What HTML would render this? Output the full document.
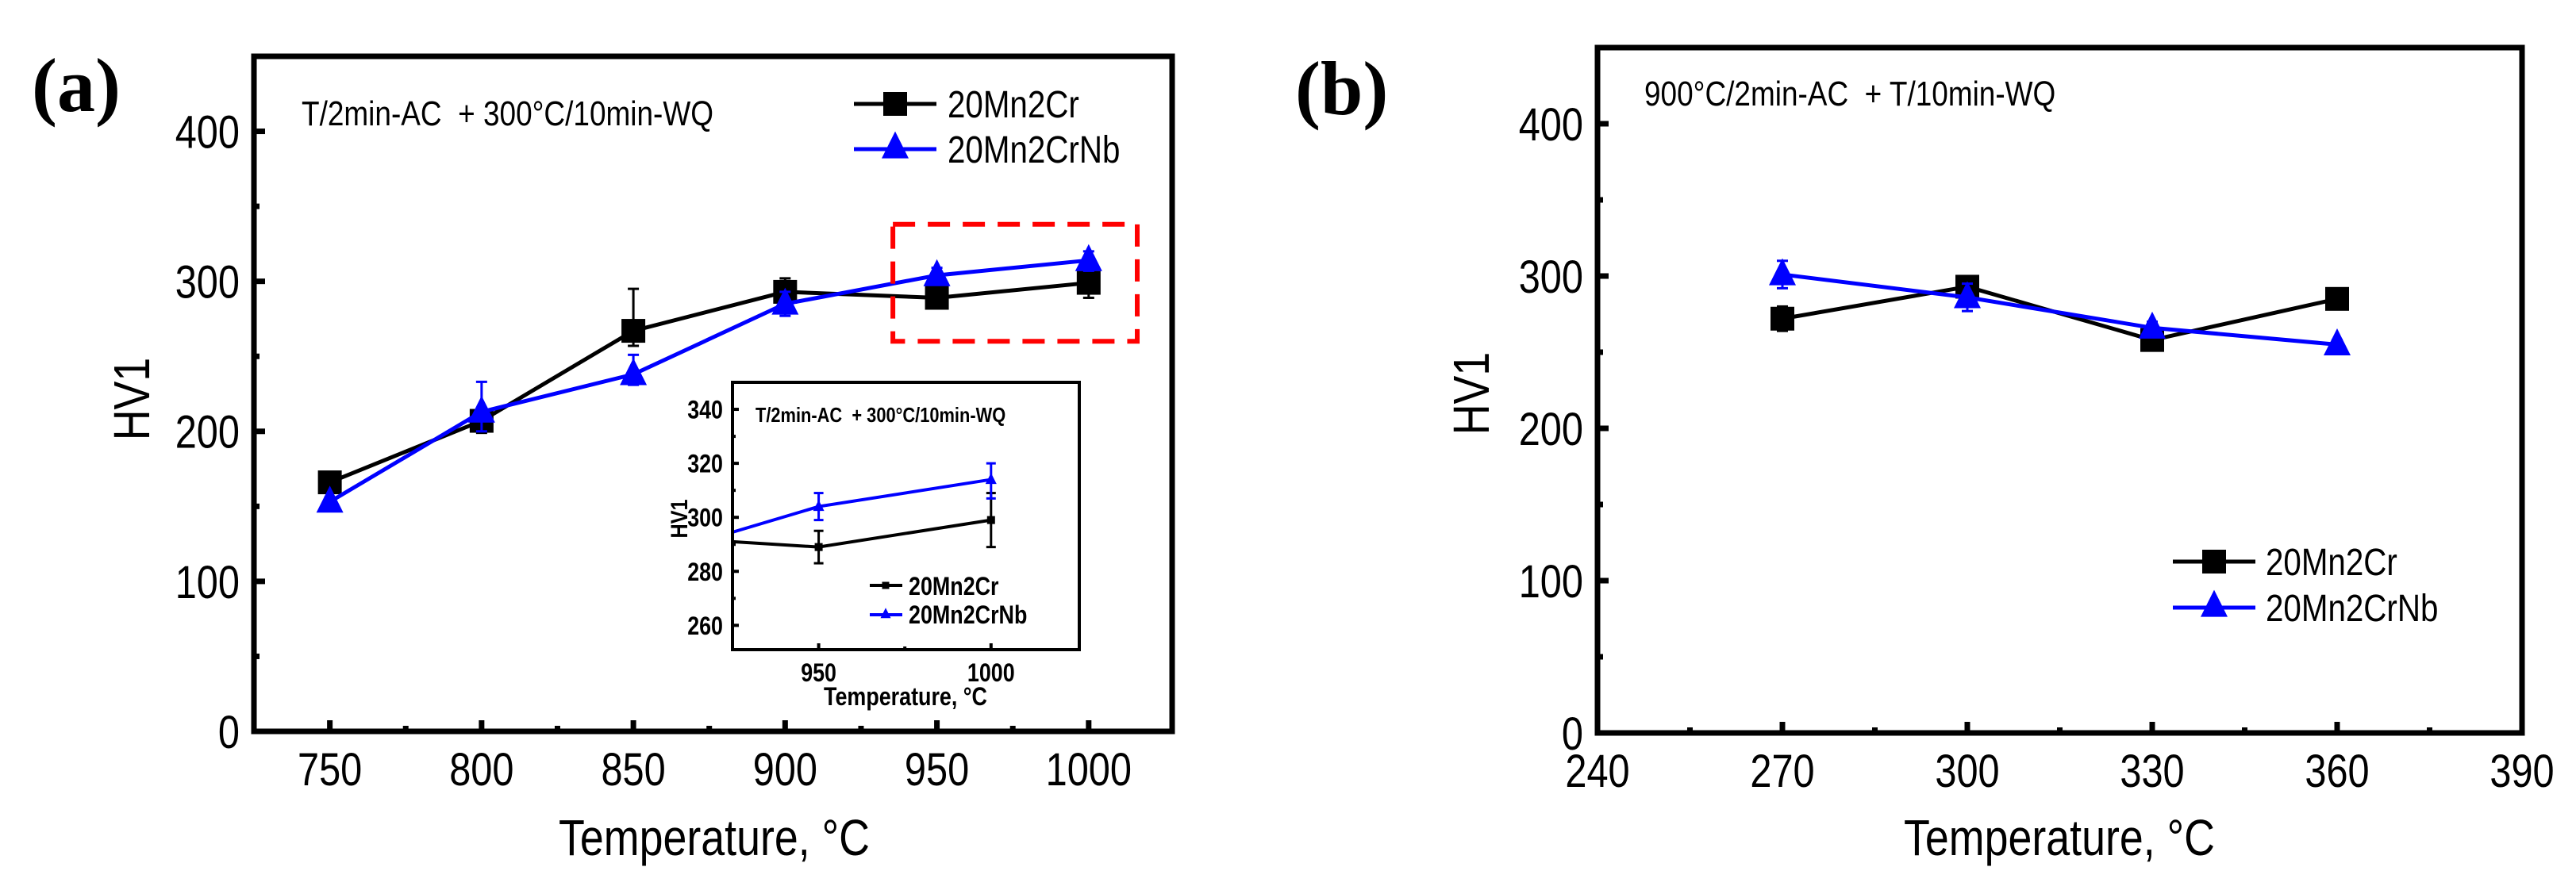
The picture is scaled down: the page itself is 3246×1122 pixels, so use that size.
<!DOCTYPE html>
<html><head><meta charset="utf-8"><style>
html,body{margin:0;padding:0;background:#fff;}
svg{display:block;}
text{font-family:"Liberation Sans",sans-serif;white-space:pre;}
text.serif{font-family:"Liberation Serif",serif;}
</style></head><body>
<svg id="fig" width="3246" height="1122" viewBox="0 0 3246 1122" xmlns="http://www.w3.org/2000/svg"></svg>
<script>
// Panel (a) data
const aTemps = [750, 800, 850, 900, 950, 1000];
const aCr = [166, 207, 267, 293, 289, 299];
const aCrErrHi = [3, 8, 28, 9, 4, 8];
const aCrErrLo = [3, 8, 10, 9, 4, 10];
const aNb = [153, 213, 238, 285, 304, 314];
const aNbErrHi = [3, 20, 13, 8, 5, 6];
const aNbErrLo = [3, 13, 7, 8, 5, 7];
const aXTicks = [750, 800, 850, 900, 950, 1000];
const aYTicks = [0, 100, 200, 300, 400];
// Inset data
const inYTicks = [260, 280, 300, 320, 340];
const inXTicks = [950, 1000];
// Panel (b) data
const bTemps = [270, 300, 330, 360];
const bCr = [272, 293, 258, 285];
const bCrErr = [8, 7, 4, 5];
const bNb = [301, 286, 266, 255];
const bNbErr = [9, 9, 4, 3];
const bXTicks = [240, 270, 300, 330, 360, 390];
const bYTicks = [0, 100, 200, 300, 400];

const svg = document.getElementById('fig');
const NS = 'http://www.w3.org/2000/svg';
function mk(tag, attrs, parent) {
  const e = document.createElementNS(NS, tag);
  for (const k in attrs) e.setAttribute(k, attrs[k]);
  (parent || svg).appendChild(e);
  return e;
}
function txt(s, attrs, parent) { const t = mk('text', attrs, parent); t.textContent = s; return t; }

function axis(L, R, T, B, x0, x1, y0, y1) {
  return { sx: v => L + (v - x0) / (x1 - x0) * (R - L), sy: v => B - (v - y0) / (y1 - y0) * (B - T), L, R, T, B };
}

function square(g, x, y, s, c) { return mk('rect', { x: x - s / 2, y: y - s / 2, width: s, height: s, fill: c }, g); }
function tri(g, x, y, s, c) { return mk('polygon', { points: `${x},${y - s * 0.6} ${x - s / 2},${y + s * 0.4} ${x + s / 2},${y + s * 0.4}`, fill: c }, g); }

function series(g, ax, xs, ys, hi, lo, color, marker, ms, lw, cap, name) {
  const sg = mk('g', {}, g);
  
  
  const pts = xs.map((x, i) => ax.sx(x) + ',' + ax.sy(ys[i])).join(' ');
  const line = mk('polyline', { points: pts, fill: 'none', stroke: color, 'stroke-width': lw }, sg);
  
  
  xs.forEach((x, i) => {
    const px = ax.sx(x);
    const yh = ax.sy(ys[i] + hi[i]), yl = ax.sy(ys[i] - lo[i]);
    const eb = mk('g', {}, sg);
    
    
    mk('line', { x1: px, x2: px, y1: yh, y2: yl, stroke: color, 'stroke-width': 3 }, eb);
    mk('line', { x1: px - cap, x2: px + cap, y1: yh, y2: yh, stroke: color, 'stroke-width': 3 }, eb);
    mk('line', { x1: px - cap, x2: px + cap, y1: yl, y2: yl, stroke: color, 'stroke-width': 3 }, eb);
    const m = marker === 'sq' ? square(sg, px, ax.sy(ys[i]), ms, color) : tri(sg, px, ax.sy(ys[i]), ms, color);
    
    
  });
}

function frame(g, ax, xticks, yticks, xminor, yminor, lw, tl, fs, bold, xlabOff, ylabOff) {
  const fw = bold ? 'bold' : 'normal';
  xticks.forEach(v => {
    const x = ax.sx(v);
    mk('line', { x1: x, x2: x, y1: ax.B, y2: ax.B - tl, stroke: '#000', 'stroke-width': lw }, g);
    const t = txt(String(v), { x: x, y: ax.B + xlabOff, 'font-size': fs, 'font-weight': fw, 'text-anchor': 'middle' }, g);
    
    
  });
  xminor.forEach(v => { const x = ax.sx(v); mk('line', { x1: x, x2: x, y1: ax.B, y2: ax.B - tl / 2, stroke: '#000', 'stroke-width': lw }, g); });
  yticks.forEach(v => {
    const y = ax.sy(v);
    mk('line', { x1: ax.L, x2: ax.L + tl, y1: y, y2: y, stroke: '#000', 'stroke-width': lw }, g);
    const t = txt(String(v), { x: ax.L - ylabOff, y: y + fs * 0.36, 'font-size': fs, 'font-weight': fw, 'text-anchor': 'end' }, g);
    
    
  });
  yminor.forEach(v => { const y = ax.sy(v); mk('line', { x1: ax.L, x2: ax.L + tl / 2, y1: y, y2: y, stroke: '#000', 'stroke-width': lw }, g); });
  mk('rect', { x: ax.L, y: ax.T, width: ax.R - ax.L, height: ax.B - ax.T, fill: 'none', stroke: '#000', 'stroke-width': lw }, g);
}

// ---------- Panel (a) ----------
const ga = mk('g', {});


const A = axis(320, 1477, 71, 922, 725, 1027.5, 0, 450);
const la = txt('(a)', { x: 40, y: 140, 'font-size': 96, 'font-weight': 'bold', class: 'serif' }, ga);
 
series(ga, A, aTemps, aCr, aCrErrHi, aCrErrLo, '#000', 'sq', 30, 5, 7, 'series-20mn2cr');
series(ga, A, aTemps, aNb, aNbErrHi, aNbErrLo, '#0000ff', 'tri', 34, 5, 7, 'series-20mn2crnb');
frame(ga, A, aXTicks, aYTicks, [775, 825, 875, 925, 975], [50, 150, 250, 350], 7, 14, 58, false, 68, 18);
const rb = mk('rect', { x: A.sx(935.5), y: A.sy(338), width: A.sx(1016) - A.sx(935.5), height: A.sy(260) - A.sy(338), fill: 'none', stroke: '#ff0000', 'stroke-width': 6, 'stroke-dasharray': '28,16' }, ga);
 
let t;
t = txt('T/2min-AC  + 300°C/10min-WQ', { x: 380, y: 158, 'font-size': 44 }, ga);
 
t = txt('HV1', { x: 0, y: 0, 'font-size': 64, 'text-anchor': 'middle', transform: 'translate(188,503) rotate(-90)' }, ga);
 
t = txt('Temperature, °C', { x: 900, y: 1078, 'font-size': 64, 'text-anchor': 'middle' }, ga);
 
const lga = mk('g', {}, ga);
 
mk('line', { x1: 1076, x2: 1180, y1: 131, y2: 131, stroke: '#000', 'stroke-width': 5 }, lga);
square(lga, 1128, 131, 30, '#000');
t = txt('20Mn2Cr', { x: 1194, y: 148, 'font-size': 48 }, lga);
 
mk('line', { x1: 1076, x2: 1180, y1: 188, y2: 188, stroke: '#0000ff', 'stroke-width': 5 }, lga);
tri(lga, 1128, 186, 34, '#0000ff');
t = txt('20Mn2CrNb', { x: 1194, y: 205, 'font-size': 48 }, lga);
 

// ---------- Inset ----------
const gi = mk('g', {}, ga);
 
const I = axis(923, 1360, 482, 819, 925, 1025.6, 251, 350);
mk('rect', { x: 923, y: 482, width: 437, height: 337, fill: '#fff' }, gi);
const defs = mk('defs', {}, gi);
const cp = mk('clipPath', { id: 'inclip' }, defs);
mk('rect', { x: 923, y: 482, width: 437, height: 337 }, cp);
const gic = mk('g', { 'clip-path': 'url(#inclip)' }, gi);
series(gic, I, aTemps, aCr, [3, 8, 28, 9, 6, 10], [3, 8, 10, 9, 6, 10], '#000', 'sq', 10, 4, 6, 'inset-series-20mn2cr');
series(gic, I, aTemps, aNb, [3, 20, 13, 8, 5, 6], [3, 13, 7, 8, 5, 7], '#0000ff', 'tri', 14, 4, 6, 'inset-series-20mn2crnb');
frame(gi, I, inXTicks, inYTicks, [975], [270, 290, 310, 330], 4, 8, 32, true, 40, 12);
t = txt('T/2min-AC  + 300°C/10min-WQ', { x: 952, y: 532, 'font-size': 26, 'font-weight': 'bold' }, gi);
 
t = txt('HV1', { x: 0, y: 0, 'font-size': 30, 'font-weight': 'bold', 'text-anchor': 'middle', transform: 'translate(866,654) rotate(-90)' }, gi);
 
t = txt('Temperature, °C', { x: 1141, y: 889, 'font-size': 32, 'font-weight': 'bold', 'text-anchor': 'middle' }, gi);
 
mk('line', { x1: 1096, x2: 1137, y1: 738, y2: 738, stroke: '#000', 'stroke-width': 4 }, gi);
square(gi, 1116, 738, 9, '#000');
t = txt('20Mn2Cr', { x: 1145, y: 750, 'font-size': 32, 'font-weight': 'bold' }, gi);
 
mk('line', { x1: 1096, x2: 1137, y1: 775, y2: 775, stroke: '#0000ff', 'stroke-width': 4 }, gi);
tri(gi, 1116, 774, 13, '#0000ff');
t = txt('20Mn2CrNb', { x: 1145, y: 786, 'font-size': 32, 'font-weight': 'bold' }, gi);
 

// ---------- Panel (b) ----------
const gb = mk('g', {});


const Bx = axis(2013, 3178, 60, 924, 240, 390, 0, 450);
t = txt('(b)', { x: 1632, y: 144, 'font-size': 96, 'font-weight': 'bold', class: 'serif' }, gb);
 
series(gb, Bx, bTemps, bCr, bCrErr, bCrErr, '#000', 'sq', 30, 5, 7, 'series-20mn2cr');
series(gb, Bx, bTemps, bNb, bNbErr, bNbErr, '#0000ff', 'tri', 34, 5, 7, 'series-20mn2crnb');
frame(gb, Bx, bXTicks, bYTicks, [255, 285, 315, 345, 375], [50, 150, 250, 350], 7, 14, 58, false, 68, 18);
t = txt('900°C/2min-AC  + T/10min-WQ', { x: 2072, y: 133, 'font-size': 44 }, gb);
 
t = txt('HV1', { x: 0, y: 0, 'font-size': 64, 'text-anchor': 'middle', transform: 'translate(1876,496) rotate(-90)' }, gb);
 
t = txt('Temperature, °C', { x: 2595, y: 1078, 'font-size': 64, 'text-anchor': 'middle' }, gb);
 
const lgb = mk('g', {}, gb);
 
mk('line', { x1: 2738, x2: 2842, y1: 708, y2: 708, stroke: '#000', 'stroke-width': 5 }, lgb);
square(lgb, 2790, 708, 30, '#000');
t = txt('20Mn2Cr', { x: 2855, y: 725, 'font-size': 48 }, lgb);
 
mk('line', { x1: 2738, x2: 2842, y1: 766, y2: 766, stroke: '#0000ff', 'stroke-width': 5 }, lgb);
tri(lgb, 2790, 764, 34, '#0000ff');
t = txt('20Mn2CrNb', { x: 2855, y: 783, 'font-size': 48 }, lgb);
 

// condense sans-serif text to mimic the narrow font of the original
document.querySelectorAll('text').forEach(el => {
  if (el.classList.contains('serif')) return;
  const w = el.getComputedTextLength();
  if (w > 0) {
    el.setAttribute('textLength', (w * 0.84).toFixed(1));
    el.setAttribute('lengthAdjust', 'spacingAndGlyphs');
  }
});
</script>
</body></html>
